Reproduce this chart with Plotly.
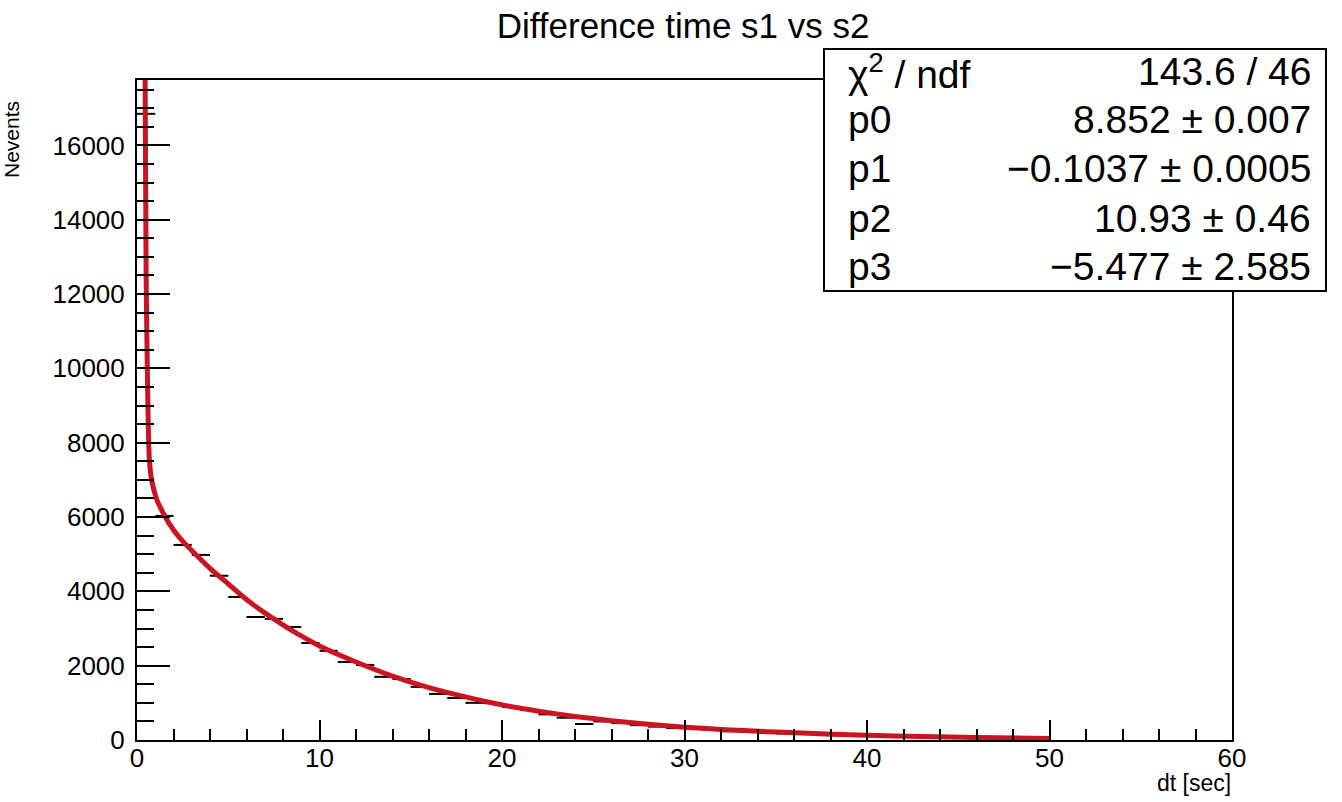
import plotly.graph_objects as go

# ---- data ----
bin_centers = [i + 0.5 for i in range(50)]
bin_counts = [16850, 6030, 5250, 4980, 4420, 3850, 3310, 3260, 3040, 2610,
              2400, 2100, 2020, 1700, 1640, 1430, 1240, 1130, 1000, 990,
              890, 810, 690, 600, 430, 500, 455, 400, 360, 320,
              300, 270, 235, 220, 190, 178, 160, 140, 140, 110,
              100, 92, 85, 75, 70, 62, 55, 48, 44, 40]
bin_half_width = 0.5

fit_x = [0.40, 0.50, 0.58, 0.66, 0.72, 0.8, 1.1, 1.5, 2.0, 2.5, 3, 4, 5, 6, 7, 8, 9, 10,
         12, 14, 16, 18, 20, 22, 24, 26, 28, 30, 32, 35, 38, 40, 43, 46, 50]
fit_y = [22000, 12500, 9500, 7700, 7300, 7000, 6450, 6050, 5650, 5350, 5100, 4620, 4200,
         3780, 3420, 3100, 2800, 2530, 2100, 1720, 1410, 1160, 945, 775, 635, 520, 425,
         345, 285, 215, 158, 128, 95, 68, 42]

title_text = "Difference time s1 vs s2"
x_title = "dt [sec]"
y_title = "Nevents"
stat_labels = ["χ<sup>2</sup> / ndf", "p0", "p1", "p2", "p3"]
stat_values = ["143.6 / 46", "8.852 ± 0.007", "−0.1037 ± 0.0005", "10.93 ± 0.46", "−5.477 ± 2.585"]

# ---- layout geometry (pixels) ----
W, H = 1342, 802
L, R, T, B = 137, 1232, 80, 740


def px_x(px):
    return (px - L) / (R - L)


def px_y(py):
    return (B - py) / (B - T)


FONT = "Liberation Sans, Arial, Helvetica, sans-serif"
RED = "#cc1420"

fig = go.Figure()

fig.add_trace(go.Scatter(
    x=bin_centers, y=bin_counts, mode="markers",
    marker=dict(size=1, color="black"),
    error_x=dict(type="constant", value=bin_half_width, width=0, thickness=2, color="black"),
    showlegend=False, hoverinfo="x+y"))

fig.add_trace(go.Scatter(
    x=fit_x, y=fit_y, mode="lines",
    line=dict(color=RED, width=5, shape="spline", smoothing=0.6),
    showlegend=False))

fig.update_layout(
    width=W, height=H,
    margin=dict(l=L, r=W - R, t=T, b=H - B, pad=0),
    paper_bgcolor="white", plot_bgcolor="white",
    font=dict(family=FONT, color="black"),
    title=dict(text=title_text, x=0.509, xanchor="center", xref="container",
               y=1 - 26 / H, yanchor="middle", yref="container",
               font=dict(size=35, family=FONT, color="black")),
    showlegend=False,
)

fig.update_xaxes(
    range=[0, 60], showgrid=False, zeroline=False,
    showline=True, linecolor="black", linewidth=2, mirror=True,
    ticks="inside", ticklen=20, tickwidth=2, tickcolor="black",
    tick0=0, dtick=10, tickformat="d",
    minor=dict(ticks="inside", ticklen=11, tickwidth=2, tickcolor="black", dtick=2, showgrid=False),
    tickfont=dict(size=26, family=FONT, color="black"),
    ticklabelstandoff=-6,
)
fig.update_yaxes(
    range=[0, 17760], showgrid=False, zeroline=False,
    showline=True, linecolor="black", linewidth=2, mirror=True,
    ticks="inside", ticklen=33, tickwidth=2, tickcolor="black",
    tick0=0, dtick=2000, tickformat="d",
    minor=dict(ticks="inside", ticklen=17, tickwidth=2, tickcolor="black", dtick=500, showgrid=False),
    tickfont=dict(size=26, family=FONT, color="black"),
    ticklabelstandoff=5,
)

# stats box
fig.add_shape(type="rect", xref="paper", yref="paper",
              x0=px_x(824), x1=px_x(1326), y0=px_y(291), y1=px_y(49),
              fillcolor="white", line=dict(color="black", width=2), layer="above")

row_centers = [73, 121, 169, 219, 267]
for lab, val, cy in zip(stat_labels, stat_values, row_centers):
    fig.add_annotation(xref="paper", yref="paper", x=px_x(846), y=px_y(cy - 1),
                       text=lab, showarrow=False, xanchor="left", yanchor="middle",
                       font=dict(size=39, family=FONT, color="black"))
    fig.add_annotation(xref="paper", yref="paper", x=px_x(1313), y=px_y(cy - 1),
                       text=val, showarrow=False, xanchor="right", yanchor="middle",
                       font=dict(size=39, family=FONT, color="black"))

# axis titles
fig.add_annotation(xref="paper", yref="paper", x=px_x(1233), y=px_y(783),
                   text=x_title, showarrow=False, xanchor="right", yanchor="middle",
                   font=dict(size=23, family=FONT, color="black"))
fig.add_annotation(xref="paper", yref="paper", x=px_x(11), y=px_y(140),
                   text=y_title, showarrow=False, textangle=-90,
                   xanchor="center", yanchor="middle",
                   font=dict(size=21, family=FONT, color="black"))

fig.write_html("out.html", config={"displayModeBar": False},
               post_script="document.body.style.margin='0px';document.body.style.overflow='hidden';")
